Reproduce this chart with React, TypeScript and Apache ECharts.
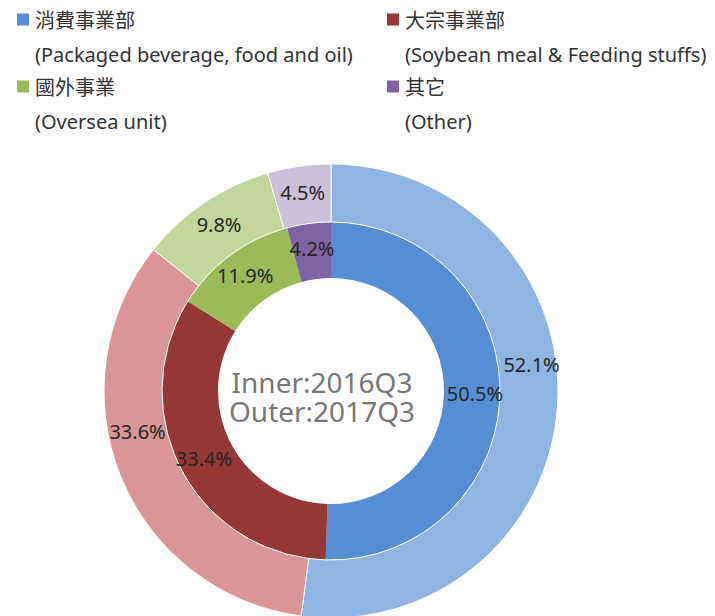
import React, { useEffect, useRef } from "react";
import * as echarts from "echarts";

const categories = ["消費事業部", "大宗事業部", "國外事業", "其它"];
const categoriesEn = [
  "(Packaged beverage, food and oil)",
  "(Soybean meal & Feeding stuffs)",
  "(Oversea unit)",
  "(Other)",
];
const innerPeriod = "2016Q3";
const outerPeriod = "2017Q3";
const inner2016Q3 = [50.5, 33.4, 11.9, 4.2];
const outer2017Q3 = [52.1, 33.6, 9.8, 4.5];

const innerColors = ["#558ED5", "#953735", "#9BBB59", "#8064A2"];
const outerColors = ["#8EB4E3", "#D99694", "#C3D69B", "#CCC1DA"];

const LATIN = "'Noto Sans', 'Noto Sans CJK TC', sans-serif";
const CJK = "'Noto Sans CJK TC', 'Noto Sans', sans-serif";

function legendRich() {
  const rich: Record<string, any> = {
    g: { width: 6, height: 35, lineHeight: 35 },
    ind: { width: 18, height: 35, lineHeight: 35 },
    c: { fontSize: 20, fontFamily: CJK, color: "#333333", lineHeight: 35 },
    e: { fontSize: 20, fontFamily: LATIN, color: "#333333", lineHeight: 35 },
  };
  innerColors.forEach((col, i) => {
    rich["m" + i] = { width: 12, height: 12, backgroundColor: col, fontSize: 1 };
  });
  return rich;
}

function legendFormatter(name: string) {
  const i = categories.indexOf(name);
  return `{m${i}| }{g| }{c|${name}}\n{ind| }{e|${categoriesEn[i]}}`;
}

function makeLegend(left: number, names: string[]) {
  return {
    orient: "vertical",
    left,
    top: 2,
    padding: 0,
    itemWidth: 0,
    itemHeight: 0,
    itemGap: -3,
    textGap: 0,
    selectedMode: false,
    data: names,
    formatter: legendFormatter,
    textStyle: { rich: legendRich() },
  };
}

export default function App() {
  const ref = useRef<HTMLDivElement>(null);
  useEffect(() => {
    document.body.style.margin = "0";
    if (!ref.current) return;
    const chart = echarts.init(ref.current, null, { renderer: "svg" });
    const labelStyle = {
      show: true,
      position: "inside",
      color: "#262626",
      fontSize: 20,
      fontFamily: LATIN,
      formatter: (p: any) => `${Number(p.value).toFixed(1)}%`,
    };
    const centerText = (text: string, y: number) => ({
      type: "text",
      x: 322,
      y,
      style: {
        text,
        align: "center",
        verticalAlign: "middle",
        fontSize: 28,
        fontFamily: LATIN,
        fill: "#777777",
      },
    });
    chart.setOption({
      animation: false,
      backgroundColor: "#ffffff",
      legend: [
        makeLegend(12, [categories[0], categories[2]]),
        makeLegend(382, [categories[1], categories[3]]),
      ],
      graphic: [
        centerText(`Inner:${innerPeriod}`, 382),
        centerText(`Outer:${outerPeriod}`, 411),
      ],
      series: [
        {
          name: innerPeriod,
          type: "pie",
          center: [331, 391],
          radius: [113, 169],
          startAngle: 90,
          clockwise: true,
          silent: true,
          itemStyle: { borderColor: "#ffffff", borderWidth: 0 },
          label: labelStyle,
          labelLine: { show: false },
          data: categories.map((n, i) => ({
            name: n,
            value: inner2016Q3[i],
            itemStyle: { color: innerColors[i] },
          })),
        },
        {
          name: outerPeriod,
          type: "pie",
          center: [331, 391],
          radius: [169, 227],
          startAngle: 90,
          clockwise: true,
          silent: true,
          itemStyle: { borderColor: "#ffffff", borderWidth: 1 },
          label: labelStyle,
          labelLine: { show: false },
          labelLayout: (p: any) => {
            if (p.dataIndex === 0) return { dy: -40 };
            if (p.dataIndex === 1) return { dx: -7, dy: -35 };
            return {};
          },
          data: categories.map((n, i) => ({
            name: n,
            value: outer2017Q3[i],
            itemStyle: { color: outerColors[i] },
          })),
        },
      ],
    });
    return () => chart.dispose();
  }, []);
  return <div ref={ref} style={{ width: 715, height: 616 }} />;
}
